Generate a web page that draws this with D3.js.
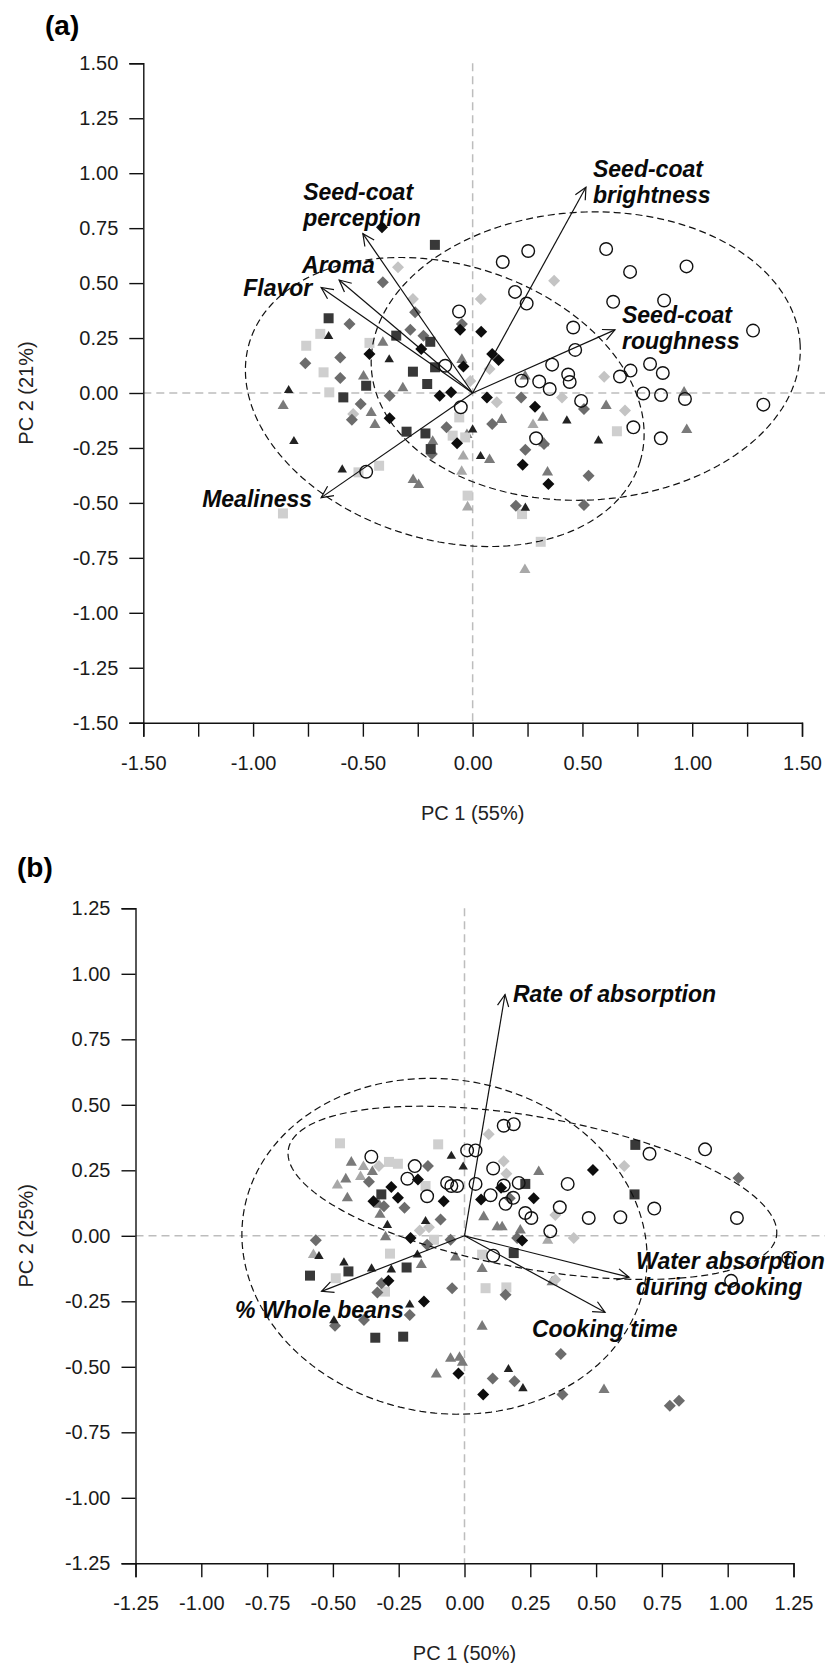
<!DOCTYPE html>
<html><head><meta charset="utf-8">
<script src="https://cdn.jsdelivr.net/npm/d3@7"></script>
<style>
body{margin:0;background:#fff;}
svg{display:block;}
text{font-family:"Liberation Sans",Arial,sans-serif;}
</style></head><body>
<svg id="chart" width="825" height="1663"></svg>
<script>
// ================= DATA =================
// axis ticks
const aTicks = [-1.5,-1.25,-1,-0.75,-0.5,-0.25,0,0.25,0.5,0.75,1,1.25,1.5];
const aXLabelTicks = [-1.5,-1,-0.5,0,0.5,1,1.5];
const bTicks = [-1.25,-1,-0.75,-0.5,-0.25,0,0.25,0.5,0.75,1,1.25];
const aTitles = ["(a)","PC 1 (55%)","PC 2 (21%)"];
const bTitles = ["(b)","PC 1 (50%)","PC 2 (25%)"];

// ---- panel (a) scores ----
const aOpenCircle = [[0.137,0.596],[0.253,0.646],[0.608,0.655],[0.717,0.551],[0.974,0.576],[0.193,0.46],[0.246,0.407],[0.640,0.415],[0.872,0.421],[0.458,0.298],[1.277,0.284],[0.467,0.196],[0.362,0.129],[0.435,0.084],[0.442,0.05],[0.303,0.052],[0.223,0.056],[0.351,0.018],[0.494,-0.036],[0.671,0.075],[0.719,0.102],[0.808,0.132],[0.866,0.091],[0.777,-0.002],[0.858,-0.009],[0.967,-0.027],[1.324,-0.053],[0.732,-0.156],[0.857,-0.206],[0.289,-0.206],[-0.062,0.371],[-0.125,0.124],[-0.054,-0.065],[-0.485,-0.358]];
const aDiamondBlack = [[-0.413,0.754],[-0.057,0.288],[0.039,0.279],[-0.47,0.178],[-0.234,0.2],[-0.042,0.12],[0.089,0.178],[0.118,0.15],[-0.15,-0.012],[-0.098,0.003],[0.065,-0.02],[0.284,-0.062],[-0.378,-0.115],[-0.071,-0.229],[0.228,-0.326],[0.345,-0.414]];
const aDiamondGray = [[-0.409,0.504],[-0.262,0.367],[-0.049,0.314],[-0.561,0.314],[-0.284,0.288],[-0.224,0.261],[-0.762,0.135],[-0.603,0.161],[-0.603,0.068],[-0.51,-0.05],[-0.378,-0.012],[0.221,-0.02],[-0.55,-0.122],[-0.186,-0.278],[-0.119,-0.156],[0.089,-0.141],[0.24,-0.258],[0.325,-0.232],[0.507,-0.073],[0.528,-0.376],[0.507,-0.51],[0.197,-0.513]];
const aDiamondLight = [[-0.34,0.572],[-0.272,0.428],[0.037,0.428],[0.371,0.511],[0.077,0.109],[0.599,0.074],[0.407,-0.02],[0.694,-0.08],[0.11,-0.042],[-0.544,-0.096],[-0.011,0.055]];
const aSquareDark = [[-0.172,0.674],[-0.656,0.34],[-0.348,0.261],[-0.193,0.233],[-0.272,0.097],[-0.171,0.117],[-0.485,0.033],[-0.207,0.041],[-0.589,-0.02],[-0.301,-0.176],[-0.215,-0.184],[-0.191,-0.255]];
const aSquareLight = [[-0.694,0.269],[-0.758,0.215],[-0.47,0.228],[-0.679,0.094],[-0.653,0.003],[-0.091,-0.194],[-0.061,-0.111],[-0.034,-0.202],[-0.023,-0.467],[-0.426,-0.331],[-0.52,-0.361],[-0.864,-0.548],[0.657,-0.174],[0.225,-0.551],[0.31,-0.677]];
const aTriangleDark = [[-0.656,0.261],[-0.38,0.155],[-0.838,0.015],[-0.814,-0.217],[0.0,-0.164],[-0.594,-0.346],[0.036,-0.285],[0.429,-0.123],[0.573,-0.214],[0.24,-0.52]];
const aTriangleGray = [[-0.409,0.233],[-0.497,0.079],[-0.049,0.155],[0.239,0.079],[0.963,0.006],[-0.318,0.026],[-0.863,-0.055],[0.608,-0.055],[-0.462,-0.087],[-0.445,-0.141],[-0.182,-0.217],[-0.026,-0.187],[-0.271,-0.391],[-0.246,-0.414],[0.132,-0.118],[0.077,-0.3],[0.341,-0.357],[0.32,-0.108],[0.324,-0.224],[0.975,-0.164]];
const aTriangleLight = [[-0.043,-0.285],[-0.05,-0.354],[-0.023,-0.516],[0.275,-0.141],[0.238,-0.801]];

// ---- panel (a) loadings (arrows) ----
const aArrowNames = [["Seed-coat","perception"],["Aroma"],["Flavor"],["Mealiness"],["Seed-coat","brightness"],["Seed-coat","roughness"]];
const aArrowX = [-0.5,-0.608,-0.69,-0.69,0.516,0.648];
const aArrowY = [0.725,0.514,0.48,-0.476,0.936,0.287];
const aLabelX = [-0.772,-0.777,-1.045,-1.232,0.548,0.68];
const aLabelY = [0.878,0.546,0.441,-0.519,0.983,0.318];

// ---- panel (a) confidence ellipses ----
const aEllipseCx = [0.515,-0.127];
const aEllipseCy = [0.168,-0.041];
const aEllipseA = [0.978,0.930];
const aEllipseB = [0.655,0.626];
const aEllipseRot = [3,-17];

// ---- panel (b) scores ----
const bOpenCircle = [[-0.354,0.302],[-0.189,0.266],[-0.217,0.218],[-0.142,0.151],[-0.066,0.202],[-0.05,0.19],[-0.028,0.19],[0.01,0.326],[0.042,0.326],[0.149,0.42],[0.187,0.426],[0.109,0.257],[0.042,0.198],[0.149,0.192],[0.206,0.202],[0.099,0.155],[0.156,0.122],[0.185,0.145],[0.231,0.087],[0.254,0.068],[0.362,0.109],[0.392,0.198],[0.326,0.017],[0.472,0.068],[0.592,0.071],[0.721,0.104],[0.703,0.313],[0.914,0.33],[1.035,0.068],[0.109,-0.076],[1.23,-0.085],[1.013,-0.172]];
const bDiamondBlack = [[-0.177,0.215],[-0.278,0.186],[-0.346,0.132],[-0.253,0.145],[-0.079,0.132],[-0.205,-0.008],[-0.289,-0.172],[-0.154,-0.251],[-0.023,-0.526],[0.071,-0.606],[0.488,0.251],[0.139,0.183],[0.263,0.143],[0.063,0.139],[0.219,-0.018]];
const bDiamondGray = [[-0.139,0.266],[-0.363,0.206],[-0.306,0.113],[-0.228,0.107],[-0.091,0.062],[-0.053,-0.015],[-0.142,-0.034],[-0.565,-0.017],[-0.315,-0.181],[-0.331,-0.216],[-0.047,-0.2],[-0.208,-0.302],[-0.492,-0.343],[-0.382,-0.321],[0.107,-0.545],[0.19,-0.555],[0.366,-0.451],[0.372,-0.606],[0.78,-0.649],[0.815,-0.63],[1.041,0.221],[0.172,0.143],[0.2,-0.008],[0.156,-0.225]];
const bDiamondLight = [[-0.325,0.266],[-0.135,0.033],[-0.17,0.02],[0.092,0.388],[0.149,0.285],[0.159,0.237],[0.607,0.266],[0.345,0.079],[0.415,-0.008],[0.345,-0.168]];
const bSquareDark = [[-0.316,0.158],[-0.441,-0.136],[-0.22,-0.121],[-0.587,-0.152],[-0.339,-0.389],[-0.233,-0.385],[0.649,0.347],[0.231,0.198],[0.646,0.158],[0.187,-0.066]];
const bSquareLight = [[-0.473,0.353],[-0.1,0.349],[-0.287,0.282],[-0.253,0.275],[-0.148,0.19],[-0.116,-0.015],[-0.283,-0.068],[-0.489,-0.162],[-0.302,-0.213],[0.067,-0.072],[0.08,-0.2],[0.159,-0.197]];
const bTriangleDark = [[-0.05,0.307],[-0.005,0.266],[-0.293,0.043],[-0.148,0.058],[-0.553,-0.076],[-0.179,-0.07],[-0.458,-0.1],[-0.353,-0.123],[-0.278,-0.127],[-0.208,-0.261],[-0.496,-0.321],[0.167,-0.507],[0.222,-0.58]];
const bTriangleGray = [[-0.43,0.283],[-0.35,0.247],[-0.451,0.219],[-0.445,0.147],[-0.325,0.122],[-0.321,0.084],[-0.3,-0.002],[-0.034,-0.079],[-0.164,-0.108],[0.067,-0.343],[-0.053,-0.466],[-0.019,-0.462],[-0.008,-0.481],[-0.107,-0.526],[0.53,-0.585],[0.282,0.247],[0.073,0.075],[0.124,0.036],[0.143,0.036],[0.212,0.024],[0.067,-0.123],[0.333,-0.174]];
const bTriangleLight = [[-0.384,0.266],[-0.395,0.228],[-0.483,0.196],[-0.574,-0.07],[0.316,-0.015]];

// ---- panel (b) loadings (arrows) ----
const bArrowNames = [["Rate of absorption"],["Water absorption","during cooking"],["Cooking time"],["% Whole beans"]];
const bArrowX = [0.154,0.625,0.534,-0.543];
const bArrowY = [0.921,-0.158,-0.292,-0.212];
const bLabelX = [0.184,0.652,0.256,-0.872];
const bLabelY = [0.893,-0.128,-0.387,-0.315];

// ---- panel (b) confidence ellipses ----
const bEllipseCx = [-0.076,0.258];
const bEllipseCy = [-0.04,0.164];
const bEllipseA = [0.774,0.942];
const bEllipseB = [0.636,0.29];
const bEllipseRot = [-10.5,-10.2];

// ================= DRAWING =================
const svg = d3.select("#chart");
svg.append("rect").attr("width",825).attr("height",1663).attr("fill","#fff");

const shapes = {
  diamond: s => `M0,${-s}L${s},0L0,${s}L${-s},0Z`,
  square: s => `M${-s},${-s}H${s}V${s}H${-s}Z`,
  triangle: s => `M0,${-s*1.05}L${s*1.05},${s*0.75}L${-s*1.05},${s*0.75}Z`
};

function drawPanel(cfg){
  const x = d3.scaleLinear().domain(cfg.xDom).range(cfg.xRange);
  const y = d3.scaleLinear().domain(cfg.yDom).range(cfg.yRange);
  const g = svg.append("g");

  // reference dashed lines through origin
  g.append("line").attr("x1",x(0)).attr("x2",x(0)).attr("y1",y(cfg.yDom[1])).attr("y2",y(cfg.yDom[0]))
    .attr("stroke","#bdbdbd").attr("stroke-width",1.5).attr("stroke-dasharray","8,5");
  g.append("line").attr("x1",x(cfg.xDom[0])).attr("x2",825).attr("y1",y(0)).attr("y2",y(0))
    .attr("stroke","#bdbdbd").attr("stroke-width",1.5).attr("stroke-dasharray","8,5");

  // axes
  const fmt = d => (Math.abs(d)<1e-9?0:d).toFixed(2);
  const ax = d3.axisBottom(x).tickValues(cfg.ticksX).tickSizeOuter(0).tickSize(14).tickPadding(19)
     .tickFormat(d => cfg.xLabelTicks.some(v=>Math.abs(v-d)<1e-9) ? fmt(d) : "");
  const ay = d3.axisLeft(y).tickValues(cfg.ticksY).tickSizeOuter(0).tickSize(14).tickPadding(11).tickFormat(fmt);
  const gx = g.append("g").attr("transform",`translate(0,${cfg.yRange[0]})`).call(ax);
  const gy = g.append("g").attr("transform",`translate(${cfg.xRange[0]},0)`).call(ay);
  [gx,gy].forEach(a=>{
    a.selectAll("path.domain").attr("stroke","#111").attr("stroke-width",1.4);
    a.selectAll(".tick line").attr("stroke","#111").attr("stroke-width",1.4);
    a.selectAll(".tick text").attr("font-size",20).attr("fill","#1a1a1a")
      .attr("font-family","'Liberation Sans',Arial,sans-serif");
  });

  // titles
  g.append("text").attr("x",cfg.tagX).attr("y",cfg.tagY).text(cfg.titles[0])
    .attr("font-family","'Liberation Serif','Times New Roman',serif").attr("font-weight","bold").attr("font-size",28).attr("fill","#000");
  g.append("text").attr("x",(cfg.xRange[0]+cfg.xRange[1])/2).attr("y",cfg.yRange[0]+97)
    .attr("text-anchor","middle").attr("font-size",20).attr("fill","#222").text(cfg.titles[1]);
  g.append("text").attr("transform",`translate(33,${(cfg.yRange[0]+cfg.yRange[1])/2}) rotate(-90)`)
    .attr("text-anchor","middle").attr("font-size",20).attr("fill","#222").text(cfg.titles[2]);

  // points
  const pts = g.append("g");
  cfg.series.forEach(s=>{
    if(s.shape==="circle"){
      pts.append("g").selectAll("circle").data(s.data).join("circle")
        .attr("cx",d=>x(d[0])).attr("cy",d=>y(d[1])).attr("r",6.3)
        .attr("fill","none").attr("stroke","#111").attr("stroke-width",1.4);
    } else {
      pts.append("g").selectAll("path").data(s.data).join("path")
        .attr("transform",d=>`translate(${x(d[0])},${y(d[1])})`)
        .attr("d",shapes[s.shape](s.size)).attr("fill",s.fill);
    }
  });

  // ellipses
  const line = d3.line().x(d=>x(d[0])).y(d=>y(d[1])).curve(d3.curveLinearClosed);
  cfg.ell.cx.forEach((cx,i)=>{
    const cy=cfg.ell.cy[i], A=cfg.ell.a[i], B=cfg.ell.b[i], r=cfg.ell.rot[i]*Math.PI/180;
    const ptsE = d3.range(0,360,2).map(t=>{
      const tt=t*Math.PI/180, u=A*Math.cos(tt), v=B*Math.sin(tt);
      return [cx+u*Math.cos(r)-v*Math.sin(r), cy+u*Math.sin(r)+v*Math.cos(r)];
    });
    g.append("path").attr("d",line(ptsE)).attr("fill","none").attr("stroke","#111")
      .attr("stroke-width",1.2).attr("stroke-dasharray","7,4");
  });

  // arrows
  const arr = g.append("g").attr("stroke","#111").attr("stroke-width",1.2).attr("fill","none");
  cfg.arrows.x.forEach((ex,i)=>{
    const ey=cfg.arrows.y[i];
    const x0=x(0), y0=y(0), x1=x(ex), y1=y(ey);
    arr.append("line").attr("x1",x0).attr("y1",y0).attr("x2",x1).attr("y2",y1);
    const ang=Math.atan2(y1-y0,x1-x0), L=13, w=Math.PI/7;
    const p1=[x1-L*Math.cos(ang-w), y1-L*Math.sin(ang-w)];
    const p2=[x1-L*Math.cos(ang+w), y1-L*Math.sin(ang+w)];
    arr.append("path").attr("d",`M${p1[0]},${p1[1]}L${x1},${y1}L${p2[0]},${p2[1]}`);
  });
  // arrow labels
  cfg.arrows.names.forEach((lines,i)=>{
    const t = g.append("text").attr("x",x(cfg.arrows.lx[i])).attr("y",y(cfg.arrows.ly[i]))
      .attr("font-size",23).attr("font-weight","bold").attr("font-style","italic").attr("fill","#0a0a0a");
    lines.forEach((ln,k)=>{
      t.append("tspan").attr("x",x(cfg.arrows.lx[i])).attr("dy",k===0?0:26).text(ln);
    });
  });
}

drawPanel({
  xDom:[-1.5,1.5], xRange:[143.3,802], yDom:[-1.5,1.5], yRange:[722.7,63.3],
  ticksX:aTicks, ticksY:aTicks, xLabelTicks:aXLabelTicks, titles:aTitles, tagX:45, tagY:35,
  series:[
    {data:aTriangleLight, shape:"triangle", size:5.3, fill:"#a8a8a8"},
    {data:aTriangleGray, shape:"triangle", size:5.3, fill:"#7a7a7a"},
    {data:aSquareLight, shape:"square", size:5, fill:"#cfcfcf"},
    {data:aDiamondLight, shape:"diamond", size:6, fill:"#c4c4c4"},
    {data:aDiamondGray, shape:"diamond", size:6, fill:"#6c6c6c"},
    {data:aSquareDark, shape:"square", size:5, fill:"#383838"},
    {data:aTriangleDark, shape:"triangle", size:4.5, fill:"#222"},
    {data:aDiamondBlack, shape:"diamond", size:6, fill:"#0d0d0d"},
    {data:aOpenCircle, shape:"circle"}
  ],
  ell:{cx:aEllipseCx, cy:aEllipseCy, a:aEllipseA, b:aEllipseB, rot:aEllipseRot},
  arrows:{names:aArrowNames, x:aArrowX, y:aArrowY, lx:aLabelX, ly:aLabelY}
});

drawPanel({
  xDom:[-1.25,1.25], xRange:[135.5,793.5], yDom:[-1.25,1.25], yRange:[1563.3,908.3],
  ticksX:bTicks, ticksY:bTicks, xLabelTicks:bTicks, titles:bTitles, tagX:17, tagY:877,
  series:[
    {data:bTriangleLight, shape:"triangle", size:5.3, fill:"#a8a8a8"},
    {data:bTriangleGray, shape:"triangle", size:5.3, fill:"#7a7a7a"},
    {data:bSquareLight, shape:"square", size:5, fill:"#cfcfcf"},
    {data:bDiamondLight, shape:"diamond", size:6, fill:"#c4c4c4"},
    {data:bDiamondGray, shape:"diamond", size:6, fill:"#6c6c6c"},
    {data:bSquareDark, shape:"square", size:5, fill:"#383838"},
    {data:bTriangleDark, shape:"triangle", size:4.5, fill:"#222"},
    {data:bDiamondBlack, shape:"diamond", size:6, fill:"#0d0d0d"},
    {data:bOpenCircle, shape:"circle"}
  ],
  ell:{cx:bEllipseCx, cy:bEllipseCy, a:bEllipseA, b:bEllipseB, rot:bEllipseRot},
  arrows:{names:bArrowNames, x:bArrowX, y:bArrowY, lx:bLabelX, ly:bLabelY}
});
</script>
</body></html>
